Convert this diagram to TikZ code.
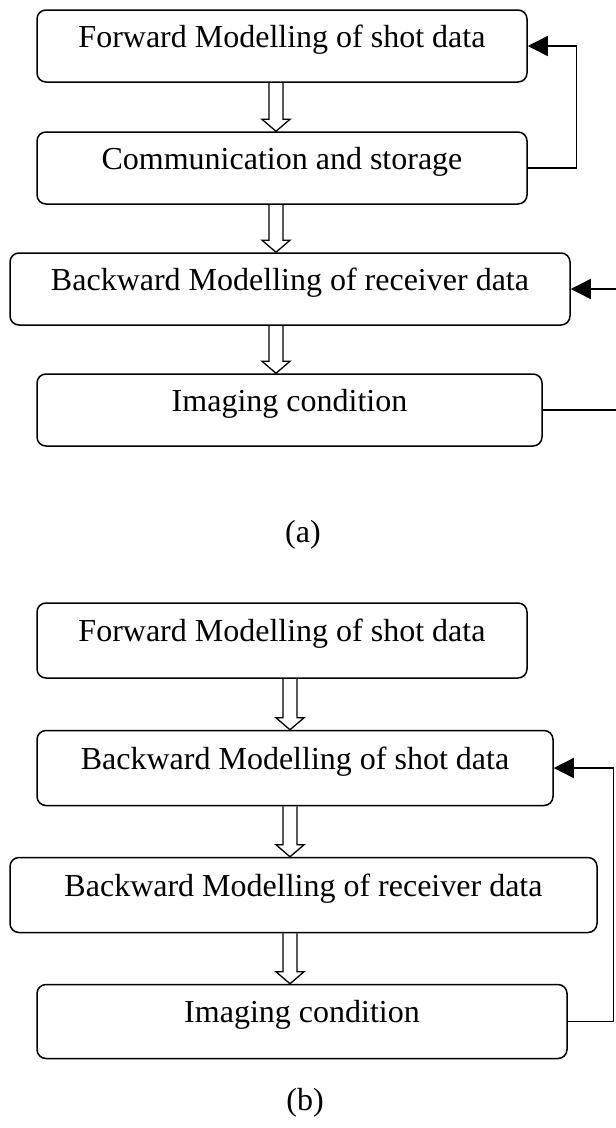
\documentclass[tikz,border=0pt]{standalone}
\usepackage{fontspec}
\setmainfont{Liberation Serif}
\usetikzlibrary{arrows.meta,calc}
\newcommand\harrow[3]{%
  \draw[harr] let \p1=(#1.south), \p2=(#2.north) in
   ({#3pt-7pt},\y1) -- ({#3pt-7pt},\y2+12pt) -- ({#3pt-14pt},\y2+12pt) -- ({#3pt},\y2)
   -- ({#3pt+14pt},\y2+12pt) -- ({#3pt+7pt},\y2+12pt) -- ({#3pt+7pt},\y1);}
\begin{document}
\begin{tikzpicture}[x=1pt,y=-1pt,
  box/.style={draw, line width=1.5pt, rounded corners=9pt, minimum height=72pt,
    inner sep=0pt, text height=2pt, text depth=0pt, font=\fontsize{32}{32}\selectfont},
  lbl/.style={font=\fontsize{32}{32}\selectfont},
  conn/.style={line width=1.3pt},
  tip/.style={-{Triangle[length=20pt,width=20pt]}},
  harr/.style={line width=1.3pt, line join=miter}]
\useasboundingbox (0,0) rectangle (616,1128);
% panel (a)
\node[box, minimum width=490pt] (a1) at (282,46) {Forward Modelling of shot data};
\node[box, minimum width=490pt] (a2) at (282,168) {Communication and storage};
\node[box, minimum width=560pt] (a3) at (290,289) {Backward Modelling of receiver data};
\node[box, minimum width=505pt] (a4) at (289.5,410) {Imaging condition};
\harrow{a1}{a2}{276}
\harrow{a2}{a3}{276}
\harrow{a3}{a4}{276}
\draw[conn,tip] (a2.east) -- ++(49,0) |- (a1.east);
\coordinate (ra3) at (616,289);
\coordinate (ra4) at (616,410);
\draw[conn,tip] (ra3) -- (a3.east);
\draw[conn] (a4.east) -- (ra4);
\node[lbl] (la) at (303,535) {(a)};
% panel (b)
\node[box, minimum width=490pt, minimum height=75pt] (b1) at (282,640.5) {Forward Modelling of shot data};
\node[box, minimum width=516pt, minimum height=75pt] (b2) at (295,768) {Backward Modelling of shot data};
\node[box, minimum width=587pt, minimum height=75pt] (b3) at (303.5,895) {Backward Modelling of receiver data};
\node[box, minimum width=530pt, minimum height=74pt] (b4) at (302,1021.5) {Imaging condition};
\harrow{b1}{b2}{290}
\harrow{b2}{b3}{290}
\harrow{b3}{b4}{290}
\draw[conn,tip] (b4.east) -- ++(46,0) |- (b2.east);
\node[lbl] (lb) at (305,1103) {(b)};
\end{tikzpicture}
\end{document}
